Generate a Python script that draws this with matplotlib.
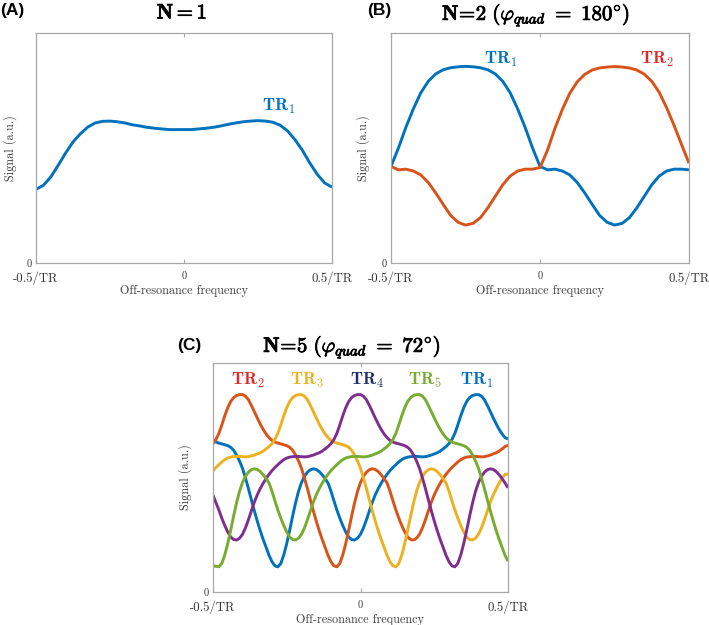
import matplotlib
matplotlib.use("Agg")
import matplotlib.pyplot as plt
import matplotlib.patheffects as pe
import numpy as np

plt.rcParams['mathtext.fontset'] = 'cm'
plt.rcParams['font.family'] = ['cmr10', 'DejaVu Serif']
plt.rcParams['axes.formatter.use_mathtext'] = True

# ---------------- data ----------------
# Panel A / B: off-resonance grid, step 0.025 (41 points)
freq_ab = np.linspace(-0.5, 0.5, 41)
sig_a_tr1 = [0.320, 0.338, 0.374, 0.425, 0.478, 0.526, 0.562, 0.591, 0.609, 0.616,
             0.617, 0.614, 0.609, 0.601, 0.596, 0.590, 0.586, 0.583, 0.580, 0.580,
             0.580, 0.580, 0.583, 0.586, 0.590, 0.596, 0.603, 0.609, 0.614, 0.617,
             0.619, 0.617, 0.612, 0.599, 0.574, 0.536, 0.490, 0.435, 0.386, 0.348, 0.330]

sig_b_tr1 = [0.420, 0.500, 0.590, 0.670, 0.740, 0.790, 0.822, 0.840, 0.849, 0.853,
             0.855, 0.853, 0.849, 0.840, 0.822, 0.790, 0.740, 0.670, 0.590, 0.500,
             0.420, 0.405, 0.408, 0.400, 0.383, 0.350, 0.305, 0.255, 0.207, 0.177,
             0.165, 0.172, 0.197, 0.240, 0.290, 0.340, 0.378, 0.400, 0.408, 0.408, 0.405]
sig_b_tr2 = [0.420, 0.405, 0.408, 0.400, 0.383, 0.350, 0.305, 0.255, 0.207, 0.177,
             0.165, 0.172, 0.197, 0.240, 0.290, 0.340, 0.378, 0.400, 0.408, 0.408,
             0.415, 0.490, 0.585, 0.668, 0.738, 0.788, 0.820, 0.839, 0.848, 0.852,
             0.854, 0.852, 0.848, 0.839, 0.821, 0.790, 0.742, 0.675, 0.598, 0.515, 0.434]

# Panel C: off-resonance grid, step 0.01 (101 points)
freq_c = np.linspace(-0.5, 0.5, 101)
sig_c_tr1 = [0.662, 0.655, 0.650, 0.647, 0.643, 0.639, 0.632, 0.619, 0.598, 0.572,
             0.540, 0.498, 0.452, 0.403, 0.355, 0.310, 0.268, 0.230, 0.195, 0.160,
             0.132, 0.114, 0.110, 0.125, 0.162, 0.212, 0.270, 0.332, 0.390, 0.440,
             0.478, 0.505, 0.523, 0.534, 0.538, 0.535, 0.526, 0.512, 0.495, 0.476,
             0.440, 0.398, 0.358, 0.322, 0.290, 0.262, 0.240, 0.229, 0.227, 0.235,
             0.252, 0.280, 0.315, 0.354, 0.392, 0.424, 0.451, 0.475, 0.496, 0.514,
             0.530, 0.544, 0.556, 0.568, 0.578, 0.585, 0.589, 0.591, 0.592, 0.592,
             0.591, 0.590, 0.591, 0.594, 0.598, 0.603, 0.608, 0.615, 0.625, 0.635,
             0.648, 0.666, 0.693, 0.730, 0.770, 0.805, 0.832, 0.849, 0.858, 0.862,
             0.862, 0.855, 0.840, 0.815, 0.788, 0.760, 0.734, 0.710, 0.690, 0.674,
             0.668]
sig_c_tr2 = [0.648, 0.666, 0.693, 0.730, 0.770, 0.805, 0.832, 0.849, 0.858, 0.862,
             0.862, 0.855, 0.840, 0.815, 0.788, 0.760, 0.734, 0.710, 0.690, 0.674,
             0.662, 0.655, 0.650, 0.647, 0.643, 0.639, 0.632, 0.619, 0.598, 0.572,
             0.540, 0.498, 0.452, 0.403, 0.355, 0.310, 0.268, 0.230, 0.195, 0.160,
             0.132, 0.114, 0.110, 0.125, 0.162, 0.212, 0.270, 0.332, 0.390, 0.440,
             0.478, 0.505, 0.523, 0.534, 0.538, 0.535, 0.526, 0.512, 0.495, 0.476,
             0.440, 0.398, 0.358, 0.322, 0.290, 0.262, 0.240, 0.229, 0.227, 0.235,
             0.252, 0.280, 0.315, 0.354, 0.392, 0.424, 0.451, 0.475, 0.496, 0.514,
             0.530, 0.544, 0.556, 0.568, 0.578, 0.585, 0.589, 0.591, 0.592, 0.592,
             0.591, 0.590, 0.591, 0.594, 0.598, 0.603, 0.608, 0.615, 0.625, 0.635,
             0.642]
sig_c_tr3 = [0.530, 0.544, 0.556, 0.568, 0.578, 0.585, 0.589, 0.591, 0.592, 0.592,
             0.591, 0.590, 0.591, 0.594, 0.598, 0.603, 0.608, 0.615, 0.625, 0.635,
             0.648, 0.666, 0.693, 0.730, 0.770, 0.805, 0.832, 0.849, 0.858, 0.862,
             0.862, 0.855, 0.840, 0.815, 0.788, 0.760, 0.734, 0.710, 0.690, 0.674,
             0.662, 0.655, 0.650, 0.647, 0.643, 0.639, 0.632, 0.619, 0.598, 0.572,
             0.540, 0.498, 0.452, 0.403, 0.355, 0.310, 0.268, 0.230, 0.195, 0.160,
             0.132, 0.114, 0.110, 0.125, 0.162, 0.212, 0.270, 0.332, 0.390, 0.440,
             0.478, 0.505, 0.523, 0.534, 0.538, 0.535, 0.526, 0.512, 0.495, 0.476,
             0.440, 0.398, 0.358, 0.322, 0.290, 0.262, 0.240, 0.229, 0.227, 0.235,
             0.252, 0.280, 0.315, 0.354, 0.392, 0.424, 0.451, 0.475, 0.496, 0.514,
             0.515]
sig_c_tr4 = [0.422, 0.390, 0.358, 0.322, 0.290, 0.262, 0.240, 0.229, 0.227, 0.235,
             0.252, 0.280, 0.315, 0.354, 0.392, 0.424, 0.451, 0.475, 0.496, 0.514,
             0.530, 0.544, 0.556, 0.568, 0.578, 0.585, 0.589, 0.591, 0.592, 0.592,
             0.591, 0.590, 0.591, 0.594, 0.598, 0.603, 0.608, 0.615, 0.625, 0.635,
             0.648, 0.666, 0.693, 0.730, 0.770, 0.805, 0.832, 0.849, 0.858, 0.862,
             0.862, 0.855, 0.840, 0.815, 0.788, 0.760, 0.734, 0.710, 0.690, 0.674,
             0.662, 0.655, 0.650, 0.647, 0.643, 0.639, 0.632, 0.619, 0.598, 0.572,
             0.540, 0.498, 0.452, 0.403, 0.355, 0.310, 0.268, 0.230, 0.195, 0.160,
             0.132, 0.114, 0.110, 0.125, 0.162, 0.212, 0.270, 0.332, 0.390, 0.440,
             0.478, 0.505, 0.523, 0.534, 0.538, 0.535, 0.526, 0.512, 0.495, 0.476,
             0.455]
sig_c_tr5 = [0.115, 0.112, 0.110, 0.125, 0.162, 0.212, 0.270, 0.332, 0.390, 0.440,
             0.478, 0.505, 0.523, 0.534, 0.538, 0.535, 0.526, 0.512, 0.495, 0.476,
             0.440, 0.398, 0.358, 0.322, 0.290, 0.262, 0.240, 0.229, 0.227, 0.235,
             0.252, 0.280, 0.315, 0.354, 0.392, 0.424, 0.451, 0.475, 0.496, 0.514,
             0.530, 0.544, 0.556, 0.568, 0.578, 0.585, 0.589, 0.591, 0.592, 0.592,
             0.591, 0.590, 0.591, 0.594, 0.598, 0.603, 0.608, 0.615, 0.625, 0.635,
             0.648, 0.666, 0.693, 0.730, 0.770, 0.805, 0.832, 0.849, 0.858, 0.862,
             0.862, 0.855, 0.840, 0.815, 0.788, 0.760, 0.734, 0.710, 0.690, 0.674,
             0.662, 0.655, 0.650, 0.647, 0.643, 0.639, 0.632, 0.619, 0.598, 0.572,
             0.540, 0.498, 0.452, 0.403, 0.355, 0.310, 0.268, 0.230, 0.195, 0.160,
             0.135]

xtick_vals = [-0.5, 0, 0.5]
xtick_labels = ['-0.5/TR', '0', '0.5/TR']

c_blue, c_orange, c_yellow, c_purple, c_green = '#0072BD', '#D95319', '#EDB120', '#7E2F8E', '#77AC30'
lab_red, lab_navy = '#E02A2A', '#1F2D6B'

# ---------------- figure ----------------
W, H = 709, 625
fig = plt.figure(figsize=(W / 100, H / 100), dpi=100)


def px_axes(l, t, r, b):
    return fig.add_axes([l / W, 1 - b / H, (r - l) / W, (b - t) / H])


def style(ax, ylab_off):
    ax.set_xlim(-0.5, 0.5)
    ax.set_ylim(0, 1)
    for s in ax.spines.values():
        s.set_color('#A8A8A8')
        s.set_linewidth(0.9)
    ax.set_xticks(xtick_vals)
    ax.set_xticklabels(xtick_labels)
    ax.set_yticks([0])
    ax.set_yticklabels(['0'])
    ax.tick_params(direction='in', length=3, color='#A8A8A8', top=True,
                   labelcolor='#333333', pad=6)
    ax.tick_params(axis='y', pad=3, labelsize=7.5, length=0)
    labs = ax.get_xticklabels()
    labs[0].set_fontsize(9.2)
    labs[1].set_fontsize(7.5)
    labs[2].set_fontsize(9.2)
    ax.set_xlabel('Off-resonance frequency', fontsize=8.8, color='#404040', labelpad=0)
    ax.set_ylabel('Signal (a.u.)', fontsize=8.8, color='#404040')
    ax.yaxis.set_label_coords(ylab_off, 0.5)


def ftext(x, y, s, **kw):
    return fig.text(x / W, 1 - y / H, s, **kw)


lw = 2.1
pkw = dict(lw=lw, solid_joinstyle='round', solid_capstyle='butt')

# Panel A
axA = px_axes(36, 33, 332, 263)
axA.plot(freq_ab, sig_a_tr1, color=c_blue, **pkw)
style(axA, -19 / 296)
axA.text(0.32, 0.68, r'$\mathbf{TR_1}$', color=c_blue, fontsize=12.5, ha='center', va='center')

# Panel B
axB = px_axes(391, 33, 689, 263)
axB.plot(freq_ab, sig_b_tr1, color=c_blue, **pkw)
axB.plot(freq_ab, sig_b_tr2, color=c_orange, **pkw)
style(axB, -21 / 298)
axB.text(-0.131, 0.883, r'$\mathbf{TR_1}$', color=c_blue, fontsize=12.5, ha='center', va='center')
axB.text(0.393, 0.883, r'$\mathbf{TR_2}$', color=lab_red, fontsize=12.5, ha='center', va='center')

# Panel C
axC = px_axes(213, 363, 508, 592)
for sig, col in [(sig_c_tr1, c_blue), (sig_c_tr2, c_orange), (sig_c_tr3, c_yellow),
                 (sig_c_tr4, c_purple), (sig_c_tr5, c_green)]:
    axC.plot(freq_c, sig, color=col, **pkw)
style(axC, -21 / 295)
for xx, s, col in [(-0.383, r'$\mathbf{TR_2}$', lab_red), (-0.182, r'$\mathbf{TR_3}$', c_yellow),
                   (0.021, r'$\mathbf{TR_4}$', lab_navy), (0.219, r'$\mathbf{TR_5}$', c_green),
                   (0.394, r'$\mathbf{TR_1}$', c_blue)]:
    axC.text(xx, 0.924, s, color=col, fontsize=12.5, ha='center', va='center')

# Titles
bold_fx = [pe.withStroke(linewidth=0.6, foreground='black')]
t = ftext(182, 13, r'$\mathbf{N=1}$', fontsize=15, ha='center', va='center')
t.set_path_effects(bold_fx)
t = ftext(536, 15, r'$\mathbf{N\!=\!2}\ \mathbf{(}\varphi_{quad}\ \mathbf{=\ 180^{\circ})}$',
          fontsize=15, ha='center', va='center')
t.set_path_effects(bold_fx)
t = ftext(352, 347, r'$\mathbf{N\!=\!5}\ \mathbf{(}\varphi_{quad}\ \mathbf{=\ 72^{\circ})}$',
          fontsize=15, ha='center', va='center')
t.set_path_effects(bold_fx)

# Panel letters
for x, y, s in [(0, 11, '(A)'), (367, 11, '(B)'), (177, 345, '(C)')]:
    ftext(x, y, s, fontsize=12.5, fontweight='bold', family='Liberation Sans',
          ha='left', va='center')

fig.savefig('out.png', dpi=100)
